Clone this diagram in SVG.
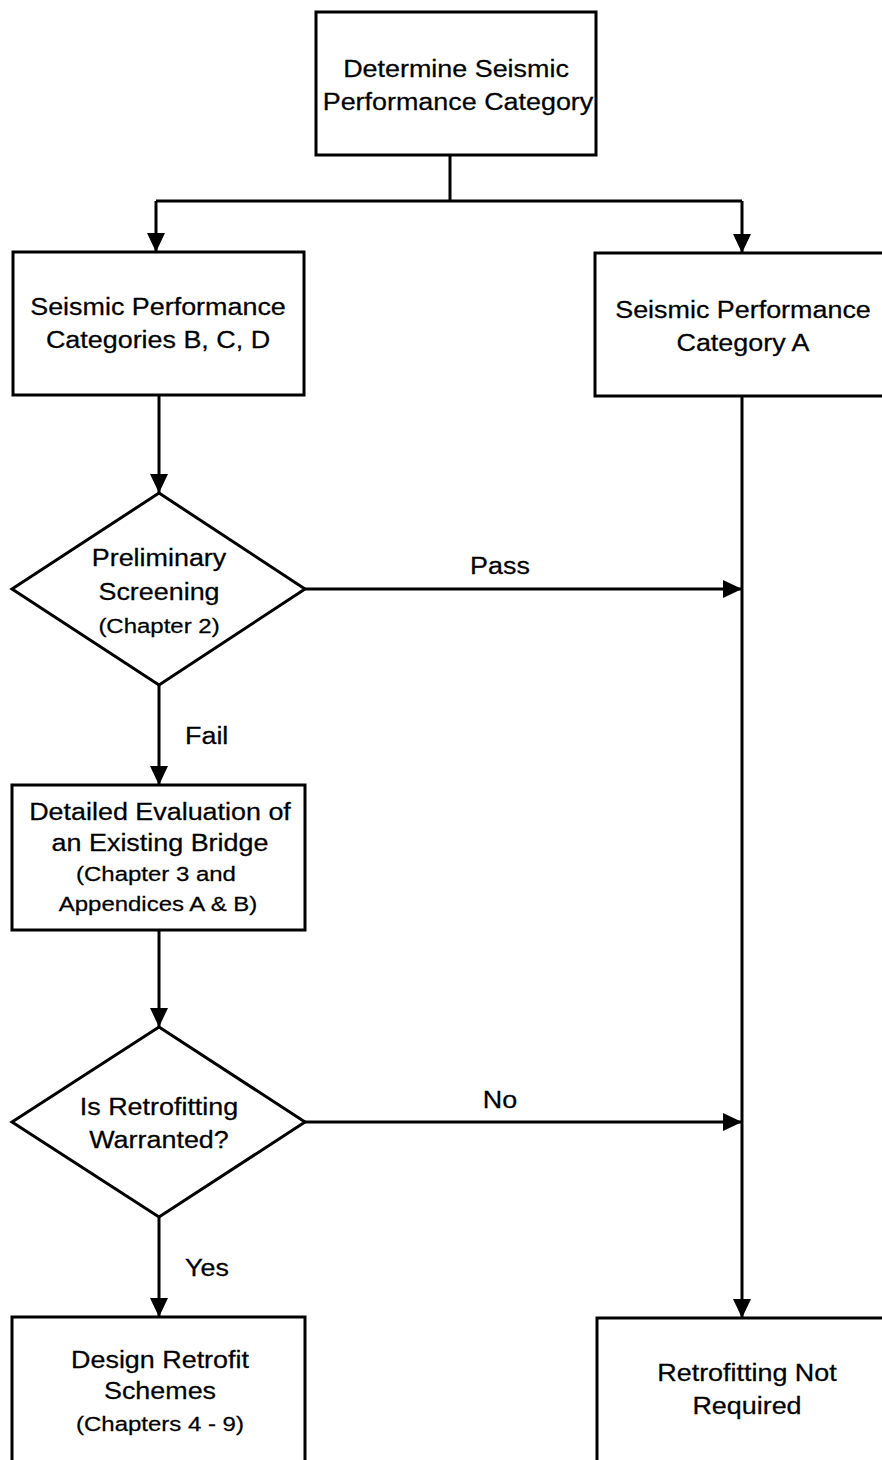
<svg xmlns="http://www.w3.org/2000/svg" width="882" height="1460" viewBox="0 0 882 1460">
<style>
.box{fill:#fff;stroke:#000;stroke-width:3}
.ln{fill:none;stroke:#000;stroke-width:3}
.t{font-family:"Liberation Sans",Arial,sans-serif;font-size:23px;fill:#000;stroke:#000;stroke-width:0.25;text-anchor:middle}
.s{font-size:20.5px}
.l{text-anchor:start}
</style>
<defs>
<marker id="ah" markerWidth="19" markerHeight="18" refX="19" refY="9" orient="auto" markerUnits="userSpaceOnUse">
<path d="M0,0 L19,9 L0,18 z" fill="#000"/>
</marker>
</defs>
<rect width="882" height="1460" fill="#fff"/>
<g id="connectors">
<path class="ln" d="M450,155 V201 M156,201 H742"/>
<path class="ln" d="M156,201 V252" marker-end="url(#ah)"/>
<path class="ln" d="M742,201 V253" marker-end="url(#ah)"/>
<path class="ln" d="M159,395 V493" marker-end="url(#ah)"/>
<path class="ln" d="M305,589 H742" marker-end="url(#ah)"/>
<path class="ln" d="M159,685 V785" marker-end="url(#ah)"/>
<path class="ln" d="M159,930 V1027" marker-end="url(#ah)"/>
<path class="ln" d="M305,1122 H742" marker-end="url(#ah)"/>
<path class="ln" d="M159,1217 V1317" marker-end="url(#ah)"/>
<path class="ln" d="M742,396 V1318" marker-end="url(#ah)"/>
<text class="t" transform="translate(500,574) scale(1.17,1)">Pass</text>
<text class="t l" transform="translate(185,744) scale(1.17,1)">Fail</text>
<text class="t" transform="translate(500,1108) scale(1.17,1)">No</text>
<text class="t l" transform="translate(185,1276) scale(1.17,1)">Yes</text>
</g>
<g id="n-determine">
<rect class="box" x="316" y="12" width="280" height="143"/>
<text class="t" transform="translate(456,77) scale(1.17,1)">Determine Seismic</text>
<text class="t" transform="translate(458,110) scale(1.17,1)">Performance Category</text>
</g>
<g id="n-bcd">
<rect class="box" x="13" y="252" width="291" height="143"/>
<text class="t" transform="translate(158,315) scale(1.17,1)">Seismic Performance</text>
<text class="t" transform="translate(158,348) scale(1.17,1)">Categories B, C, D</text>
</g>
<g id="n-a">
<rect class="box" x="595" y="253" width="300" height="143"/>
<text class="t" transform="translate(743,318) scale(1.17,1)">Seismic Performance</text>
<text class="t" transform="translate(743,351) scale(1.17,1)">Category A</text>
</g>
<g id="n-screening">
<polygon class="box" points="159,493 305,589 159,685 12,589"/>
<text class="t" transform="translate(159,566) scale(1.17,1)">Preliminary</text>
<text class="t" transform="translate(159,600) scale(1.17,1)">Screening</text>
<text class="t s" transform="translate(159,633) scale(1.17,1)">(Chapter 2)</text>
</g>
<g id="n-detailed">
<rect class="box" x="12" y="785" width="293" height="145"/>
<text class="t" transform="translate(160,820) scale(1.17,1)">Detailed Evaluation of</text>
<text class="t" transform="translate(160,851) scale(1.17,1)">an Existing Bridge</text>
<text class="t s" transform="translate(156,881) scale(1.17,1)">(Chapter 3 and</text>
<text class="t s" transform="translate(158,911) scale(1.17,1)">Appendices A &amp; B)</text>
</g>
<g id="n-warranted">
<polygon class="box" points="159,1027 305,1122 159,1217 12,1122"/>
<text class="t" transform="translate(159,1115) scale(1.17,1)">Is Retrofitting</text>
<text class="t" transform="translate(159,1148) scale(1.17,1)">Warranted?</text>
</g>
<g id="n-design">
<rect class="box" x="12" y="1317" width="293" height="160"/>
<text class="t" transform="translate(160,1368) scale(1.17,1)">Design Retrofit</text>
<text class="t" transform="translate(160,1399) scale(1.17,1)">Schemes</text>
<text class="t s" transform="translate(160,1431) scale(1.17,1)">(Chapters 4 - 9)</text>
</g>
<g id="n-notrequired">
<rect class="box" x="597" y="1318" width="300" height="160"/>
<text class="t" transform="translate(747,1381) scale(1.17,1)">Retrofitting Not</text>
<text class="t" transform="translate(747,1414) scale(1.17,1)">Required</text>
</g>
</svg>
